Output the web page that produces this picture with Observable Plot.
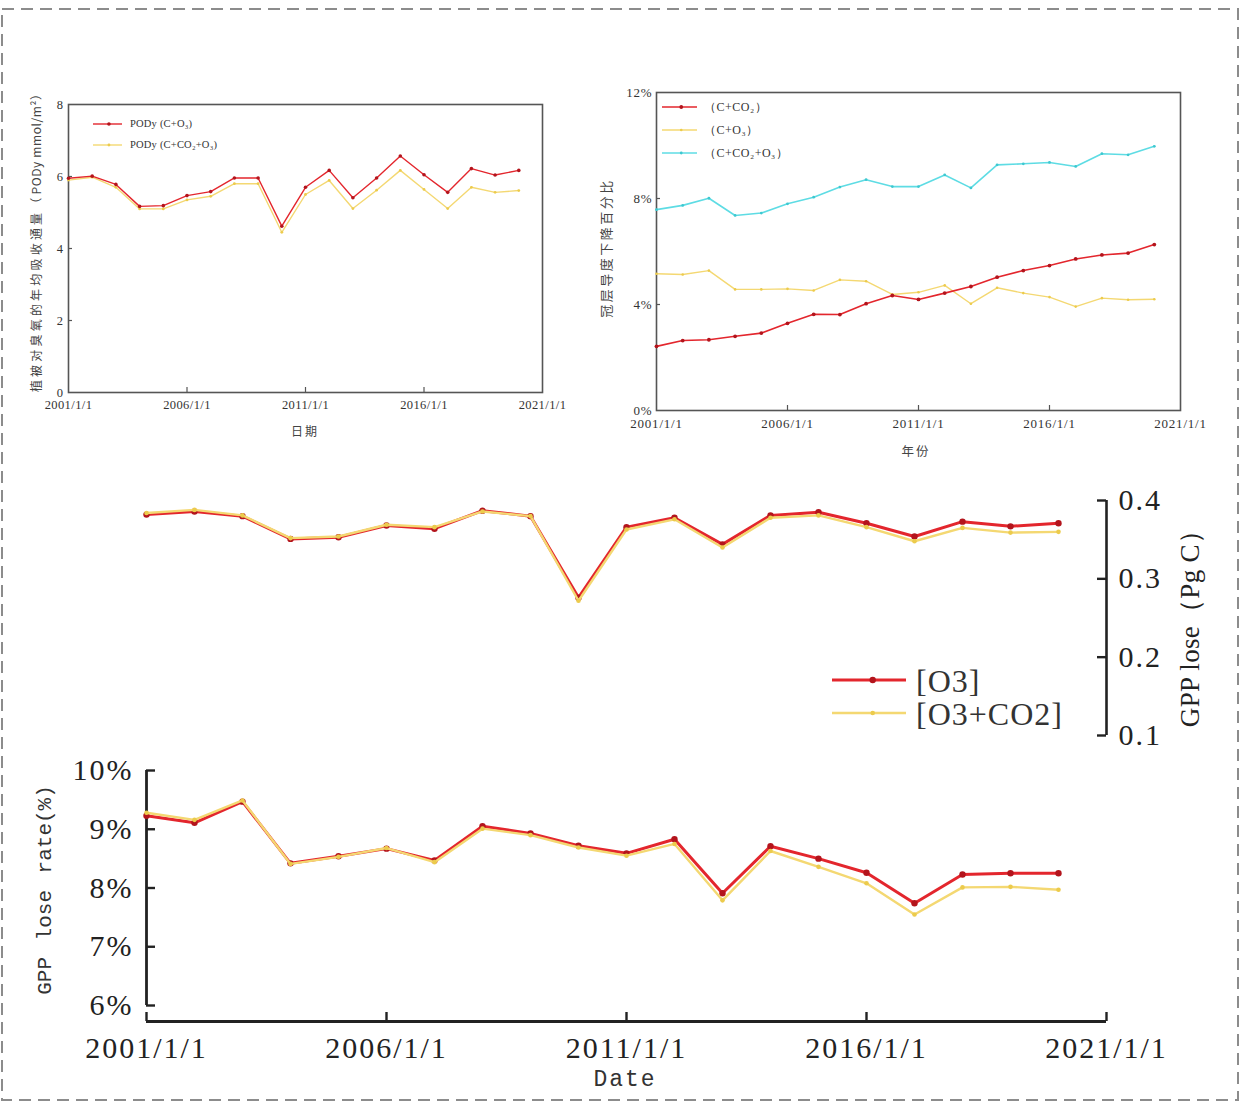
<!DOCTYPE html>
<html><head><meta charset="utf-8">
<script src="https://cdn.jsdelivr.net/npm/d3@7"></script>
<script src="https://cdn.jsdelivr.net/npm/@observablehq/plot@0.6"></script>
<style>
body{margin:0;background:#fff;}
#page{position:relative;width:1242px;height:1103px;overflow:hidden;background:#fff;}
#page svg{background:transparent;}
.lbl{position:absolute;white-space:nowrap;line-height:1;}
</style></head>
<body><div id="page"></div>
<script>
// ---------- data ----------
const years = [2001,2002,2003,2004,2005,2006,2007,2008,2009,2010,2011,2012,2013,2014,2015,2016,2017,2018,2019,2020];
const xTicks = [2001,2006,2011,2016,2021];

// Panel 1: PODy (mmol/m2)
const podTicks = [0,2,4,6,8];
const podyO3    = [5.95,6.01,5.78,5.17,5.19,5.47,5.58,5.96,5.96,4.62,5.70,6.17,5.41,5.96,6.57,6.05,5.56,6.22,6.04,6.17];
const podyCO2O3 = [5.90,5.98,5.70,5.10,5.10,5.35,5.45,5.80,5.80,4.45,5.50,5.89,5.11,5.62,6.17,5.64,5.11,5.70,5.56,5.61];

// Panel 2: canopy conductance decline (%)
const gcTicks = [0,4,8,12];
const gcCO2    = [2.42,2.64,2.67,2.80,2.92,3.29,3.63,3.62,4.03,4.34,4.19,4.43,4.68,5.03,5.28,5.47,5.72,5.87,5.94,6.26];
const gcO3     = [5.16,5.13,5.28,4.57,4.57,4.59,4.53,4.93,4.88,4.38,4.46,4.72,4.03,4.63,4.43,4.28,3.92,4.24,4.18,4.20];
const gcCO2O3  = [7.58,7.74,8.01,7.36,7.45,7.80,8.05,8.43,8.71,8.45,8.45,8.89,8.40,9.27,9.31,9.36,9.21,9.69,9.65,9.97];

// Panel 3: GPP lose (Pg C)
const gppTicks = [0.1,0.2,0.3,0.4];
const gppO3    = [0.382,0.386,0.380,0.351,0.353,0.368,0.364,0.387,0.380,0.276,0.366,0.378,0.344,0.381,0.385,0.371,0.354,0.373,0.367,0.371];
const gppO3CO2 = [0.384,0.388,0.381,0.352,0.354,0.369,0.366,0.386,0.380,0.272,0.363,0.376,0.340,0.378,0.381,0.366,0.348,0.365,0.359,0.360];

// Panel 4: GPP lose rate (%)
const rateTicks = [6,7,8,9,10];
const rateO3    = [9.23,9.11,9.47,8.42,8.54,8.67,8.47,9.05,8.93,8.72,8.59,8.83,7.91,8.71,8.50,8.26,7.74,8.23,8.25,8.25];
const rateO3CO2 = [9.28,9.16,9.49,8.41,8.53,8.68,8.44,9.01,8.90,8.69,8.55,8.75,7.79,8.63,8.36,8.08,7.55,8.01,8.02,7.97];

// ---------- styles ----------
const RED = "#e3262d", RED_DOT = "#b3141c";
const YEL = "#f4d872", YEL_DOT = "#eccb4c";
const CYAN = "#5edce4", CYAN_DOT = "#3ec8d0";
const page = document.getElementById("page");
const rows = vals => years.map((yr, i) => ({year: yr, v: vals[i]}));
function place(node, left, top) {
  node.style.position = "absolute"; node.style.left = left + "px"; node.style.top = top + "px";
  page.appendChild(node);
}
function label(parts, cx, cy, o = {}) {
  const d = document.createElement("div");
  d.className = "lbl";
  for (const [t, ls] of parts) {
    const s = document.createElement("span");
    s.textContent = t; s.style.letterSpacing = ls + "px";
    d.appendChild(s);
  }
  Object.assign(d.style, {
    left: cx + "px", top: cy + "px",
    transform: `translate(-50%,-50%) rotate(${o.rotate || 0}deg)`,
    fontFamily: o.font || "Liberation Serif", fontSize: (o.size || 12) + "px",
    wordSpacing: (o.ws || 0) + "px", color: o.color || "#333"
  });
  page.appendChild(d);
}

// ---------- Panel 1 ----------
{
  const W = 580, H = 370, mL = 68, mR = 38, mT = 24, mB = 58;
  const iw = W - mL - mR, ih = H - mT - mB;
  const p = Plot.plot({
    width: W, height: H, marginLeft: mL, marginRight: mR, marginTop: mT, marginBottom: mB,
    style: {fontFamily: "Liberation Serif", fontSize: "12.5px", color: "#333", letterSpacing: "0.4px", background: "transparent", overflow: "visible"},
    x: {domain: [2001, 2021]},
    y: {domain: [0, 8]},
    marks: [
      Plot.frame({stroke: "#555", strokeWidth: 1.6}),
      Plot.tickX(xTicks.slice(1, -1), {x: d => d, insetTop: ih - 5, stroke: "#555", strokeWidth: 1.2}),
      Plot.tickY(podTicks.slice(1, -1), {y: d => d, insetRight: iw - 4, stroke: "#555", strokeWidth: 1.2}),
      Plot.axisX({ticks: xTicks, tickSize: 0, tickPadding: 8, tickFormat: d => d + "/1/1", label: null}),
      Plot.axisY({ticks: podTicks, tickSize: 0, tickPadding: 5, label: null}),
      Plot.line(rows(podyCO2O3), {x: "year", y: "v", stroke: YEL, strokeWidth: 1.4}),
      Plot.dot(rows(podyCO2O3), {x: "year", y: "v", r: 1.4, fill: YEL_DOT}),
      Plot.line(rows(podyO3), {x: "year", y: "v", stroke: RED, strokeWidth: 1.4}),
      Plot.dot(rows(podyO3), {x: "year", y: "v", r: 1.8, fill: RED_DOT})
    ]
  });
  place(p, 0, 80);
  label([["植被对臭氧的年均吸收通量（", 3.2], ["PODy mmol/m²", 0.6], ["）", 0]], 36, 240, {rotate: -90, font: "Noto Sans CJK SC", size: 12, color: "#444"});
  label([["日期", 2]], 305, 431, {font: "Noto Sans CJK SC", size: 12, color: "#444"});
}

// ---------- Panel 2 ----------
{
  const W = 660, H = 400, mL = 76, mR = 60, mT = 22, mB = 60;
  const iw = W - mL - mR, ih = H - mT - mB;
  const p = Plot.plot({
    width: W, height: H, marginLeft: mL, marginRight: mR, marginTop: mT, marginBottom: mB,
    style: {fontFamily: "Liberation Serif", fontSize: "13px", color: "#333", letterSpacing: "0.8px", background: "transparent", overflow: "visible"},
    x: {domain: [2001, 2021]},
    y: {domain: [0, 12]},
    marks: [
      Plot.frame({stroke: "#555", strokeWidth: 1.6}),
      Plot.tickX(xTicks.slice(1, -1), {x: d => d, insetTop: ih - 5, stroke: "#555", strokeWidth: 1.2}),
      Plot.tickY(gcTicks.slice(1, -1), {y: d => d, insetRight: iw - 4, stroke: "#555", strokeWidth: 1.2}),
      Plot.axisX({ticks: xTicks, tickSize: 0, tickPadding: 8, tickFormat: d => d + "/1/1", label: null}),
      Plot.axisY({ticks: gcTicks, tickSize: 0, tickPadding: 4, tickFormat: d => d + "%", label: null}),
      Plot.line(rows(gcO3), {x: "year", y: "v", stroke: YEL, strokeWidth: 1.4}),
      Plot.dot(rows(gcO3), {x: "year", y: "v", r: 1.3, fill: YEL_DOT}),
      Plot.line(rows(gcCO2O3), {x: "year", y: "v", stroke: CYAN, strokeWidth: 1.6}),
      Plot.dot(rows(gcCO2O3), {x: "year", y: "v", r: 1.4, fill: CYAN_DOT}),
      Plot.line(rows(gcCO2), {x: "year", y: "v", stroke: RED, strokeWidth: 1.6}),
      Plot.dot(rows(gcCO2), {x: "year", y: "v", r: 1.9, fill: RED_DOT})
    ]
  });
  place(p, 580, 70);
  label([["冠层导度下降百分比", 2.5]], 605, 248, {rotate: -90, font: "Noto Sans CJK SC", size: 13, color: "#444"});
  label([["年份", 2]], 916, 451, {font: "Noto Sans CJK SC", size: 12.5, color: "#444"});
}

// ---------- Panel 3 ----------
{
  const W = 1242, H = 290, mL = 146, mR = 136, mT = 30, mB = 25;
  const iw = W - mL - mR;
  const p = Plot.plot({
    width: W, height: H, marginLeft: mL, marginRight: mR, marginTop: mT, marginBottom: mB,
    style: {fontFamily: "Liberation Serif", fontSize: "30px", color: "#222", letterSpacing: "2px", background: "transparent", overflow: "visible"},
    x: {domain: [2001, 2021], axis: null},
    y: {domain: [0.1, 0.4]},
    marks: [
      Plot.ruleX([2021], {x: d => d, stroke: "#222", strokeWidth: 2.6}),
      Plot.tickY(gppTicks, {y: d => d, insetLeft: iw - 9, stroke: "#222", strokeWidth: 2.4}),
      Plot.axisY({anchor: "right", ticks: gppTicks, tickSize: 0, tickPadding: 12, tickFormat: d3.format(".1f"), label: null}),
      Plot.line(rows(gppO3), {x: "year", y: "v", stroke: RED, strokeWidth: 3}),
      Plot.dot(rows(gppO3), {x: "year", y: "v", r: 3.2, fill: RED_DOT}),
      Plot.line(rows(gppO3CO2), {x: "year", y: "v", stroke: YEL, strokeWidth: 2.4}),
      Plot.dot(rows(gppO3CO2), {x: "year", y: "v", r: 2.3, fill: YEL_DOT})
    ]
  });
  place(p, 0, 470);
  label([["GPP lose（Pg C）", 0.3]], 1190, 622, {rotate: -90, font: "Liberation Serif", size: 27, color: "#222"});
}

// ---------- Panel 4 ----------
{
  const W = 1242, H = 353, mL = 146, mR = 136, mT = 20, mB = 98;
  const iw = W - mL - mR, ih = H - mT - mB;
  const p = Plot.plot({
    width: W, height: H, marginLeft: mL, marginRight: mR, marginTop: mT, marginBottom: mB,
    style: {fontFamily: "Liberation Serif", fontSize: "30px", color: "#222", letterSpacing: "2px", background: "transparent", overflow: "visible"},
    x: {domain: [2001, 2021]},
    y: {domain: [6, 10]},
    marks: [
      Plot.ruleX([2001], {x: d => d, stroke: "#222", strokeWidth: 2.8}),
      Plot.ruleY([6], {y: d => d, dy: 16, stroke: "#222", strokeWidth: 2.8}),
      Plot.tickY(rateTicks, {y: d => d, insetRight: iw - 9, stroke: "#222", strokeWidth: 2.4}),
      Plot.tickX(xTicks, {x: d => d, insetTop: ih - 9, dy: 16, stroke: "#222", strokeWidth: 2.4}),
      Plot.axisY({ticks: rateTicks, tickSize: 0, tickPadding: 13, tickFormat: d => d + "%", label: null}),
      Plot.axisX({ticks: xTicks, tickSize: 0, tickPadding: 31, tickFormat: d => d + "/1/1", label: null}),
      Plot.line(rows(rateO3), {x: "year", y: "v", stroke: RED, strokeWidth: 3}),
      Plot.dot(rows(rateO3), {x: "year", y: "v", r: 3.2, fill: RED_DOT}),
      Plot.line(rows(rateO3CO2), {x: "year", y: "v", stroke: YEL, strokeWidth: 2.4}),
      Plot.dot(rows(rateO3CO2), {x: "year", y: "v", r: 2.3, fill: YEL_DOT})
    ]
  });
  place(p, 0, 750);
  label([["GPP lose rate(%)", 0]], 45, 890, {rotate: -90, font: "Liberation Mono", size: 21, ws: 4, color: "#333"});
  label([["Date", 2]], 625, 1080, {font: "Liberation Mono", size: 23, color: "#333"});
}

// ---------- legends & border overlay ----------
{
  const ns = "http://www.w3.org/2000/svg";
  const svg = document.createElementNS(ns, "svg");
  svg.setAttribute("width", 1242); svg.setAttribute("height", 1103);
  svg.style.position = "absolute"; svg.style.left = "0"; svg.style.top = "0"; svg.style.pointerEvents = "none";
  const el = (tag, attrs) => { const e = document.createElementNS(ns, tag); for (const k in attrs) e.setAttribute(k, attrs[k]); svg.appendChild(e); return e; };
  el("rect", {x: 2, y: 9, width: 1236, height: 1091, fill: "none", stroke: "#8c8c8c", "stroke-width": 2, "stroke-dasharray": "12 7"});
  const item = (x1, x2, y, color, dot, sw, r) => {
    el("line", {x1, x2, y1: y, y2: y, stroke: color, "stroke-width": sw});
    el("circle", {cx: (x1 + x2) / 2 + (x2 - x1) * 0.05, cy: y, r, fill: dot});
  };
  item(93, 122, 124, RED, RED_DOT, 1.4, 1.8);
  item(93, 122, 145, YEL, YEL_DOT, 1.4, 1.4);
  item(662, 697, 107, RED, RED_DOT, 1.6, 1.9);
  item(662, 697, 130, YEL, YEL_DOT, 1.4, 1.3);
  item(662, 697, 153, CYAN, CYAN_DOT, 1.6, 1.4);
  item(832, 906, 680, RED, RED_DOT, 3, 3.2);
  item(832, 906, 713, YEL, YEL_DOT, 2.4, 2.3);
  page.appendChild(svg);

  const ltext = (t, x, y, size, font, ls) => {
    const d = document.createElement("div");
    d.className = "lbl"; d.textContent = t;
    Object.assign(d.style, {left: x + "px", top: y + "px", transform: "translateY(-50%)", fontFamily: font, fontSize: size + "px", letterSpacing: (ls || 0) + "px", color: "#333"});
    page.appendChild(d);
  };
  ltext("PODy (C+O₃)", 130, 124, 10.5, "Liberation Serif", 0.2);
  ltext("PODy (C+CO₂+O₃)", 130, 145, 10.5, "Liberation Serif", 0.2);
  ltext("（C+CO₂）", 704, 107, 12, "Liberation Serif", 0.5);
  ltext("（C+O₃）", 704, 130, 12, "Liberation Serif", 0.5);
  ltext("（C+CO₂+O₃）", 704, 153, 12, "Liberation Serif", 0.5);
  ltext("[O3]", 916, 681, 32, "Liberation Serif", 1);
  ltext("[O3+CO2]", 916, 714, 32, "Liberation Serif", 1);
}
</script>
</body></html>
